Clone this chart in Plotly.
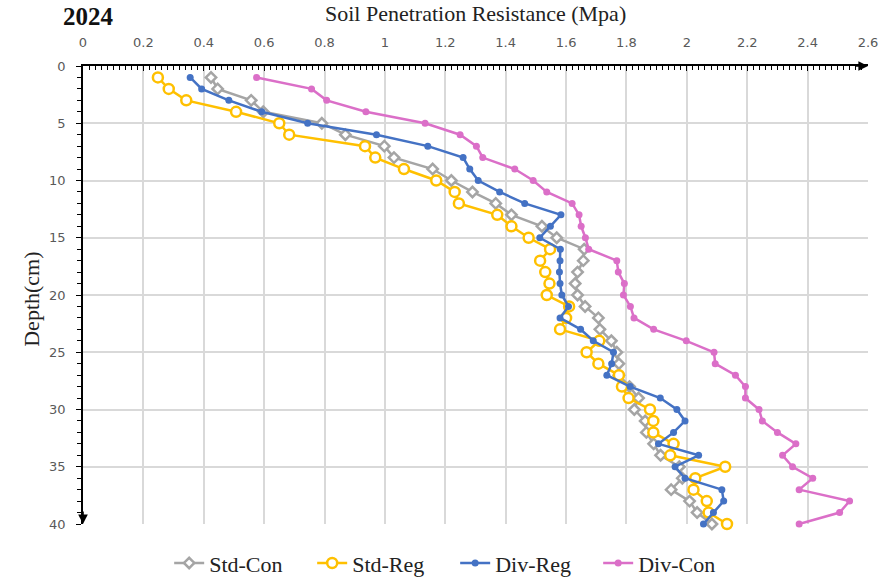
import plotly.graph_objects as go

# Depth (cm) of each reading
depth = list(range(1, 41))

# Soil penetration resistance (MPa) per treatment
std_con = [0.424, 0.446, 0.557, 0.597, 0.791, 0.869, 0.998, 1.03, 1.158, 1.22,
           1.29, 1.367, 1.419, 1.52, 1.569, 1.66, 1.657, 1.638, 1.63, 1.638,
           1.663, 1.707, 1.712, 1.75, 1.768, 1.775, 1.775, 1.81, 1.84, 1.826,
           1.862, 1.866, 1.89, 1.913, 1.975, 1.985, 1.948, 2.009, 2.034, 2.083]
std_reg = [0.248, 0.284, 0.342, 0.507, 0.65, 0.683, 0.934, 0.968, 1.063, 1.17,
           1.231, 1.245, 1.372, 1.419, 1.476, 1.547, 1.514, 1.531, 1.545, 1.536,
           1.61, 1.60, 1.58, 1.71, 1.668, 1.707, 1.775, 1.785, 1.807, 1.878,
           1.889, 1.889, 1.956, 1.945, 2.127, 2.028, 2.022, 2.066, 2.072, 2.133]
div_reg = [0.355, 0.393, 0.483, 0.592, 0.744, 0.972, 1.142, 1.259, 1.281, 1.309,
           1.38, 1.463, 1.583, 1.548, 1.513, 1.581, 1.58, 1.578, 1.58, 1.586,
           1.608, 1.58, 1.648, 1.69, 1.757, 1.751, 1.735, 1.812, 1.912, 1.967,
           1.994, 1.956, 1.906, 2.039, 1.961, 1.994, 2.116, 2.122, 2.088, 2.055]
div_con = [0.575, 0.757, 0.807, 0.937, 1.133, 1.249, 1.303, 1.324, 1.43, 1.491,
           1.536, 1.62, 1.643, 1.65, 1.664, 1.675, 1.768, 1.773, 1.793, 1.79,
           1.813, 1.825, 1.89, 1.998, 2.09, 2.094, 2.161, 2.194, 2.194, 2.239,
           2.25, 2.30, 2.361, 2.317, 2.35, 2.417, 2.372, 2.539, 2.506, 2.372]

x_ticks = [0, 0.2, 0.4, 0.6, 0.8, 1, 1.2, 1.4, 1.6, 1.8, 2, 2.2, 2.4, 2.6]
x_tick_text = ["0", "0.2", "0.4", "0.6", "0.8", "1", "1.2", "1.4", "1.6", "1.8",
               "2", "2.2", "2.4", "2.6"]
y_ticks = [0, 5, 10, 15, 20, 25, 30, 35, 40]

SERIF = "Liberation Serif, Times New Roman, serif"
TICKFONT = dict(family="DejaVu Sans", size=13, color="#595959")

fig = go.Figure()

fig.add_trace(go.Scatter(
    x=std_con, y=depth, name="Std-Con", mode="lines+markers", cliponaxis=False,
    line=dict(color="#A5A5A5", width=2.5),
    marker=dict(symbol="diamond", size=8, color="white",
                line=dict(color="#A5A5A5", width=2.5))))
fig.add_trace(go.Scatter(
    x=std_reg, y=depth, name="Std-Reg", mode="lines+markers", cliponaxis=False,
    line=dict(color="#FFC000", width=2.5),
    marker=dict(symbol="circle", size=10, color="white",
                line=dict(color="#FFC000", width=2.5))))
fig.add_trace(go.Scatter(
    x=div_reg, y=depth, name="Div-Reg", mode="lines+markers", cliponaxis=False,
    line=dict(color="#4472C4", width=2.5),
    marker=dict(symbol="circle", size=7, color="#4472C4")))
fig.add_trace(go.Scatter(
    x=div_con, y=depth, name="Div-Con", mode="lines+markers", cliponaxis=False,
    line=dict(color="#DB6FC8", width=2.5),
    marker=dict(symbol="circle", size=7, color="#DB6FC8")))

fig.update_layout(
    width=889, height=580,
    margin=dict(l=83, r=21, t=66, b=56, autoexpand=False),
    paper_bgcolor="white", plot_bgcolor="white",
    showlegend=True,
    legend=dict(orientation="h", xref="container", yref="container",
                x=0.512, xanchor="center", y=0.029, yanchor="middle",
                font=dict(family=SERIF, size=22, color="#222"),
                itemwidth=30, entrywidth=98, entrywidthmode="pixels",
                bgcolor="rgba(0,0,0,0)"),
    xaxis=dict(side="top", range=[0, 2.6], tickvals=x_ticks, ticktext=x_tick_text,
               showgrid=True, gridcolor="#D9D9D9", gridwidth=1.5,
               showline=True, linecolor="black", linewidth=1.6,
               ticks="inside", ticklen=5, tickcolor="black",
               minor=dict(dtick=0.02, ticks="inside", ticklen=4,
                          tickcolor="black", showgrid=False),
               tickfont=TICKFONT, ticklabelstandoff=12, zeroline=False),
    yaxis=dict(range=[40, 0], tickvals=y_ticks,
               showgrid=True, gridcolor="#D9D9D9", gridwidth=1.5,
               showline=True, linecolor="black", linewidth=1.6,
               ticks="outside", ticklen=5, tickcolor="black",
               minor=dict(dtick=1, ticks="outside", ticklen=4,
                          tickcolor="black", showgrid=False),
               tickfont=TICKFONT, ticklabelstandoff=8, zeroline=False),
)

annotations = [
    dict(text="<b>2024</b>", xref="paper", yref="paper", x=-0.028, y=1.108,
         xanchor="left", yanchor="middle", showarrow=False,
         font=dict(family=SERIF, size=25, color="#111")),
    dict(text="Soil Penetration Resistance (Mpa)", xref="paper", yref="paper",
         x=0.5, y=1.115, xanchor="center", yanchor="middle", showarrow=False,
         font=dict(family=SERIF, size=22, color="#222")),
    dict(text="Depth(cm)", xref="paper", yref="paper", x=-0.066, y=0.49,
         xanchor="center", yanchor="middle", textangle=-90, showarrow=False,
         font=dict(family=SERIF, size=22, color="#222")),
    # arrowheads at the ends of both axes
    dict(x=2.6, y=0, xref="x", yref="y", ax=-14, ay=0,
         showarrow=True, arrowhead=2, arrowsize=1.2, arrowwidth=1.6,
         arrowcolor="black", text=""),
    dict(x=0, y=40, xref="x", yref="y", ax=0, ay=-14,
         showarrow=True, arrowhead=2, arrowsize=1.2, arrowwidth=1.6,
         arrowcolor="black", text=""),
]
fig.update_layout(annotations=annotations)

fig.write_html("out.html")
